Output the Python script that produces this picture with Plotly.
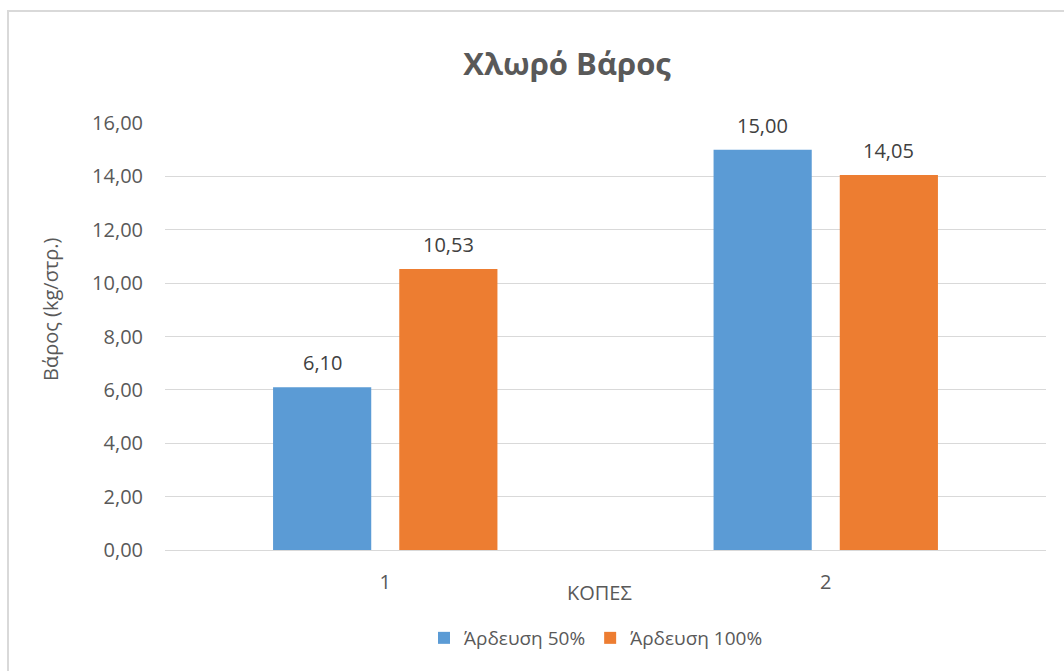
import plotly.graph_objects as go

categories = ["1", "2"]
series_names = ["Άρδευση 50%", "Άρδευση 100%"]
values_50 = [6.10, 15.00]
values_100 = [10.53, 14.05]
colors = ["#5B9BD5", "#ED7D31"]
y_ticks = [0, 2, 4, 6, 8, 10, 12, 14, 16]

def fmt(v):
    return f"{v:.2f}".replace(".", ",")

FONT = "Open Sans, Liberation Sans, sans-serif"
TXT = "#595959"

W, H = 1064, 671
L, R, T, B = 165, 18, 123, 121
PW = W - L - R
PH = H - T - B
BARGAP, GROUPGAP = 0.427, 0.222

fig = go.Figure()
series = [values_50, values_100]
for name, vals, col in zip(series_names, series, colors):
    fig.add_trace(go.Bar(
        x=categories, y=vals, name=name, marker_color=col,
        marker_line_width=0,
    ))

# data labels: placed above each bar, horizontally offset by the bar's slot in the group
# (on a category axis, annotation x is the category's serial index)
cat_px = PW / len(categories)
slot_px = cat_px * (1 - BARGAP) / len(series)
for i, vals in enumerate(series):
    shift = (i - (len(series) - 1) / 2) * slot_px
    for j, v in enumerate(vals):
        fig.add_annotation(x=j, y=v, xref="x", yref="y", text=fmt(v),
                           showarrow=False, xanchor="center", yanchor="bottom",
                           xshift=shift, yshift=9,
                           font=dict(family=FONT, size=20, color="#404040"))

fig.update_layout(
    width=W, height=H,
    margin=dict(l=L, r=R, t=T, b=B),
    paper_bgcolor="white", plot_bgcolor="white",
    barmode="group", bargap=BARGAP, bargroupgap=GROUPGAP,
    font=dict(family=FONT, color=TXT),
    title=dict(text="<b>Χλωρό Βάρος</b>", x=567 / W, xanchor="center",
               y=1 - 64 / H, yanchor="middle",
               font=dict(family=FONT, size=31, color=TXT)),
    xaxis=dict(type="category", categoryorder="array", categoryarray=categories,
               range=[-0.5, len(categories) - 0.5],
               showgrid=False, showline=True, linecolor="#d9d9d9",
               linewidth=1, ticks="", tickfont=dict(size=20, color=TXT),
               ticklabelstandoff=14),
    yaxis=dict(range=[0, 16], tickvals=y_ticks, ticktext=[fmt(v) for v in y_ticks],
               showgrid=True, gridcolor="#d9d9d9", gridwidth=1, zeroline=False,
               showline=False, ticks="", tickfont=dict(size=20, color=TXT),
               ticklabelstandoff=21),
    legend=dict(orientation="h", x=424 / W, xanchor="left", y=1 - 638 / H,
                yanchor="middle", xref="container", yref="container",
                font=dict(family=FONT, size=19, color=TXT),
                itemwidth=30, tracegroupgap=0),
    showlegend=True,
)

fig.add_annotation(text="ΚΟΠΕΣ", xref="paper", yref="paper",
                   x=(599 - L) / PW, y=-(592 - (H - B)) / PH,
                   showarrow=False, xanchor="center", yanchor="middle",
                   font=dict(family=FONT, size=20, color=TXT))
fig.add_annotation(text="Βάρος (kg/στρ.)", xref="paper", yref="paper",
                   x=-(L - 50) / PW, y=(H - B - 309) / PH,
                   showarrow=False, textangle=-90, xanchor="center", yanchor="middle",
                   font=dict(family=FONT, size=20, color=TXT))

# chart-area border (visible on left and top only, as in the reference)
fig.add_shape(type="rect", xref="paper", yref="paper",
              x0=-(L - 8) / PW, x1=(W + 20 - L) / PW,
              y0=-(H + 20 - (H - B)) / PH, y1=(H - B - 11) / PH,
              line=dict(color="#d9d9d9", width=2), fillcolor="rgba(0,0,0,0)",
              layer="below")

fig.write_html("out.html")
